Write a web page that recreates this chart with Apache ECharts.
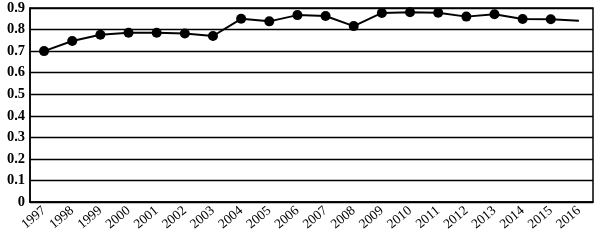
<!DOCTYPE html>
<html><head><meta charset="utf-8">
<script src="https://cdn.jsdelivr.net/npm/echarts@6/dist/echarts.min.js"></script>
<style>html,body{margin:0;padding:0;background:#fff}#c{width:597px;height:245px}</style>
</head><body><div id="c"></div>
<script>
var years = ['1997','1998','1999','2000','2001','2002','2003','2004','2005','2006','2007','2008','2009','2010','2011','2012','2013','2014','2015','2016'];
var values = [0.700,0.747,0.776,0.785,0.785,0.782,0.770,0.850,0.838,0.867,0.863,0.816,0.877,0.880,0.878,0.860,0.871,0.849,0.848,0.841];
var yTicks = [0,0.1,0.2,0.3,0.4,0.5,0.6,0.7,0.8,0.9];

var chart = echarts.init(document.getElementById('c'));
var data = values.map(function(v,i){
  return i === values.length-1 ? {value:v, symbol:'none'} : v;
});
chart.setOption({
  animation:false,
  grid:{left:30,right:4,top:8,bottom:43,show:true,borderColor:'#000',borderWidth:1.5,backgroundColor:'transparent'},
  xAxis:{type:'category',data:years,boundaryGap:true,
    axisLine:{lineStyle:{color:'#000',width:1.5}},axisTick:{show:false},
    axisLabel:{rotate:40,interval:0,color:'#000',fontFamily:'Liberation Serif',fontSize:13.5,margin:7}},
  yAxis:{type:'value',min:0,max:0.9,interval:0.1,
    axisLine:{show:true,lineStyle:{color:'#000',width:1.5}},axisTick:{show:false},
    splitLine:{lineStyle:{color:'#000',width:1.3}},
    axisLabel:{color:'#000',fontFamily:'Liberation Serif',fontSize:14.5,fontWeight:'bold',margin:5,
      formatter:function(v){var r=Math.round(v*10)/10;return yTicks.indexOf(r)>=0?String(r):'';}}},
  series:[{type:'line',data:data,symbol:'circle',symbolSize:10,
    lineStyle:{color:'#000',width:2},itemStyle:{color:'#000'}}]
});
</script></body></html>
